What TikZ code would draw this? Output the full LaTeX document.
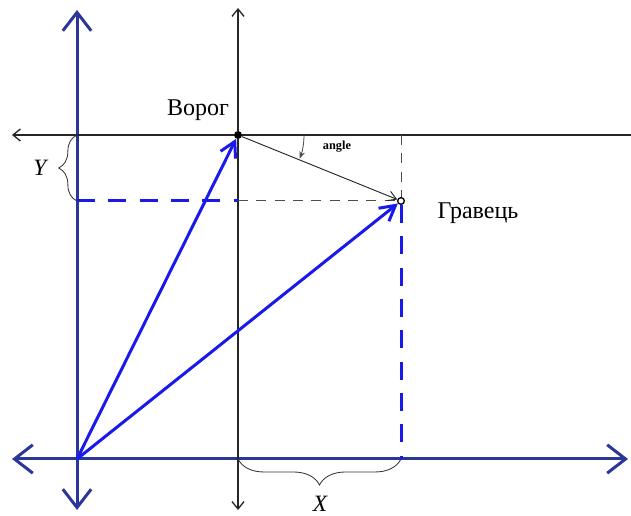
\documentclass[tikz,border=0pt]{standalone}
\usepackage{fontspec}
\setmainfont{Liberation Serif}
\usetikzlibrary{arrows.meta,decorations.pathreplacing}
\definecolor{axisblue}{RGB}{43,55,150}
\definecolor{vecblue}{RGB}{25,25,235}
\begin{document}
\begin{tikzpicture}[x=0.03cm,y=0.03cm,
  bigaxis/.style={axisblue, line width=0.09cm, -{Straight Barb[length=0.55cm,width=0.85cm]}},
  thinaxis/.style={black!85, line width=0.04cm},
  vec/.style={vecblue, line width=0.09cm, -{Straight Barb[length=0.45cm,width=0.5cm]}},
  bluedash/.style={vecblue, line width=0.09cm, dash pattern=on 0.54cm off 0.4cm},
  blackdash/.style={black!70, line width=0.03cm, dash pattern=on 0.3cm off 0.25cm},
  lbl/.style={font=\fontsize{20.5}{24}\selectfont, inner sep=0pt},
  brc/.style={black!80, line width=0.025cm, decorate}]
\useasboundingbox (0,0) rectangle (631,516);
% points
\coordinate (o) at (77,57);
\node[circle, fill=black, inner sep=0pt, minimum size=0.24cm] (enemy) at (238,381) {};
\node[circle, draw=black, fill=white, line width=0.04cm, inner sep=0pt, minimum size=0.2cm] (player) at (401,315) {};
\coordinate (xfoot) at (401,57);
\coordinate (yfoot) at (77,315);
\coordinate (ytop) at (77,381);
\coordinate (midfoot) at (238,315);
\coordinate (xtop) at (401,381);
\coordinate (bfoot) at (238,57);
% blue axes
\draw[bigaxis] (o) -- (77,506);
\draw[bigaxis] (o) -- (77,6);
\draw[bigaxis] (o) -- (12,57);
\draw[bigaxis] (o) -- (628,57);
% black axes
\draw[thinaxis, -{Straight Barb[length=0.22cm,width=0.36cm]}] (enemy) -- (238,508);
\draw[thinaxis, -{Straight Barb[length=0.22cm,width=0.36cm]}] (enemy) -- (238,6);
\draw[thinaxis, -{Straight Barb[length=0.22cm,width=0.36cm]}] (enemy) -- (12,381);
\draw[thinaxis] (enemy) -- (631,381);
% dashed projections
\draw[bluedash] (yfoot) -- (midfoot);
\draw[blackdash] (midfoot) -- (player);
\draw[blackdash] (xtop) -- (player);
\draw[bluedash] (player) -- (xfoot);
% vectors
\draw[vec] (o) -- (enemy);
\draw[vec] (o) -- (player);
\draw[black!85, line width=0.028cm, -{Straight Barb[length=0.25cm,width=0.3cm]}] (enemy) -- (player);
% angle mark
\draw[black!70, line width=0.025cm, -{Stealth[length=0.22cm,width=0.17cm]}] ([shift={(0:66)}]enemy.center) arc (0:-21:66);
\node[font=\fontsize{10.5}{12}\selectfont\bfseries, inner sep=0pt] (ang) at (337,369) {angle};
% braces
\draw[brc, decoration={brace, amplitude=0.55cm}] (yfoot) -- (ytop);
\draw[brc, decoration={brace, amplitude=0.78cm}] (xfoot) -- (bfoot);
% labels
\node[lbl] (enemylbl) at (198,406) {Ворог};
\node[lbl] (playerlbl) at (478,303) {Гравець};
\node[lbl, font=\fontsize{20}{24}\selectfont\itshape] (ylbl) at (40,348) {Y};
\node[lbl, font=\fontsize{20}{24}\selectfont\itshape] (xlbl) at (320,12) {X};
\end{tikzpicture}
\end{document}
